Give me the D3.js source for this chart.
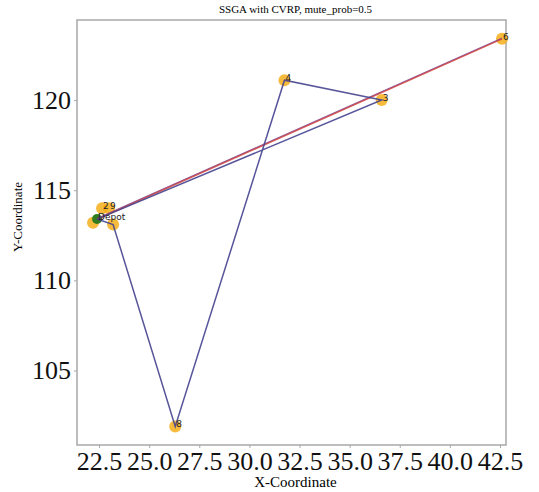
<!DOCTYPE html>
<html>
<head>
<meta charset="utf-8">
<script src="https://cdn.jsdelivr.net/npm/d3@7"></script>
<style>
  body { margin: 0; background: #fff; }
  svg { display: block; }
</style>
</head>
<body>
<div id="chart"></div>
<script>
// customer locations
var names = ["Depot", "1", "2", "9", "5", "8", "4", "3", "6"];
var xs    = [22.4, 22.2, 22.65, 23.0, 23.2, 26.3, 31.75, 36.6, 42.6];
var ys    = [113.4, 113.2, 114.0, 114.0, 113.1, 101.9, 121.1, 120.0, 123.4];
var labels = ["Depot", "", "2", "9", "", "8", "4", "3", "6"];

// routes as index lists into the arrays above
var routeBlue = [0, 4, 5, 6, 7, 0];
var routeRed = [0, 8];
var routePurple = [8, 0];

var xTicks = [22.5, 25.0, 27.5, 30.0, 32.5, 35.0, 37.5, 40.0, 42.5];
var yTicks = [105, 110, 115, 120];

var W = 539, H = 492;
var mLeft = 77, mRight = 506, mTop = 20, mBottom = 445;

var svg = d3.select("#chart").append("svg")
    .attr("width", W)
    .attr("height", H);

var x = d3.scaleLinear().domain([21.4, 42.8]).range([mLeft, mRight]);
var y = d3.scaleLinear().domain([100.87, 124.44]).range([mBottom, mTop]);

// frame
svg.append("rect")
    .attr("x", mLeft).attr("y", mTop)
    .attr("width", mRight - mLeft).attr("height", mBottom - mTop)
    .attr("fill", "none")
    .attr("stroke", "#a8a8a8")
    .attr("stroke-width", 1.5);

// axes
var xAxis = svg.append("g")
    .attr("transform", "translate(0," + mBottom + ")")
    .call(d3.axisBottom(x).tickValues(xTicks).tickFormat(d3.format(".1f")).tickSize(3).tickPadding(4));
var yAxis = svg.append("g")
    .attr("transform", "translate(" + mLeft + ",0)")
    .call(d3.axisLeft(y).tickValues(yTicks).tickFormat(d3.format("d")).tickSize(3).tickPadding(3));

[xAxis, yAxis].forEach(function(g) {
  g.select(".domain").remove();
  g.selectAll(".tick line").attr("stroke", "#a8a8a8");
  g.selectAll(".tick text")
    .attr("fill", "#111")
    .style("font-family", "'Liberation Serif', 'DejaVu Serif', serif")
    .style("font-size", "26px");
});
xAxis.selectAll(".tick text").attr("dy", "0.7em");

// points
var pts = names.map(function(n, i) { return {name: n, x: xs[i], y: ys[i], label: labels[i]}; });

svg.selectAll("circle.cust")
    .data(pts.slice(1))
  .enter().append("circle")
    .attr("class", "cust")
    .attr("cx", function(d) { return x(d.x); })
    .attr("cy", function(d) { return y(d.y); })
    .attr("r", 6)
    .attr("fill", "#f5ae1b")
    .attr("opacity", 0.85);

svg.append("circle")
    .attr("cx", x(xs[0]))
    .attr("cy", y(ys[0]))
    .attr("r", 5)
    .attr("fill", "#2f7d1e");

// route lines
var line = d3.line()
    .x(function(i) { return x(xs[i]); })
    .y(function(i) { return y(ys[i]); });

svg.append("path").datum(routeRed)
    .attr("d", line)
    .attr("fill", "none")
    .attr("stroke", "#d0453f")
    .attr("stroke-width", 1.8)
    .attr("opacity", 0.9);
svg.append("path").datum(routePurple)
    .attr("d", line)
    .attr("fill", "none")
    .attr("stroke", "#6a3a9a")
    .attr("stroke-width", 1)
    .attr("opacity", 0.6)
    .attr("transform", "translate(0,-0.8)");
svg.append("path").datum(routeBlue)
    .attr("d", line)
    .attr("fill", "none")
    .attr("stroke", "#45428e")
    .attr("stroke-width", 1.5)
    .attr("opacity", 0.9);

// point labels
svg.selectAll("text.lbl")
    .data(pts.filter(function(d) { return d.label !== ""; }))
  .enter().append("text")
    .attr("class", "lbl")
    .attr("x", function(d) { return x(d.x) + 1; })
    .attr("y", function(d) { return y(d.y) + 1; })
    .style("font-family", "'DejaVu Sans', sans-serif")
    .style("font-size", "9px")
    .attr("fill", "#222")
    .text(function(d) { return d.label; });

// title and axis titles
svg.append("text")
    .attr("x", (mLeft + mRight) / 2 + 4)
    .attr("y", 13)
    .attr("text-anchor", "middle")
    .style("font-family", "'Liberation Serif', serif")
    .style("font-size", "11px")
    .text("SSGA with CVRP, mute_prob=0.5");

svg.append("text")
    .attr("x", (mLeft + mRight) / 2 + 4)
    .attr("y", 487)
    .attr("text-anchor", "middle")
    .style("font-family", "'Liberation Serif', serif")
    .style("font-size", "15px")
    .text("X-Coordinate");

svg.append("text")
    .attr("transform", "translate(22," + 217 + ") rotate(-90)")
    .attr("text-anchor", "middle")
    .style("font-family", "'Liberation Serif', serif")
    .style("font-size", "13px")
    .text("Y-Coordinate");
</script>
</body>
</html>
